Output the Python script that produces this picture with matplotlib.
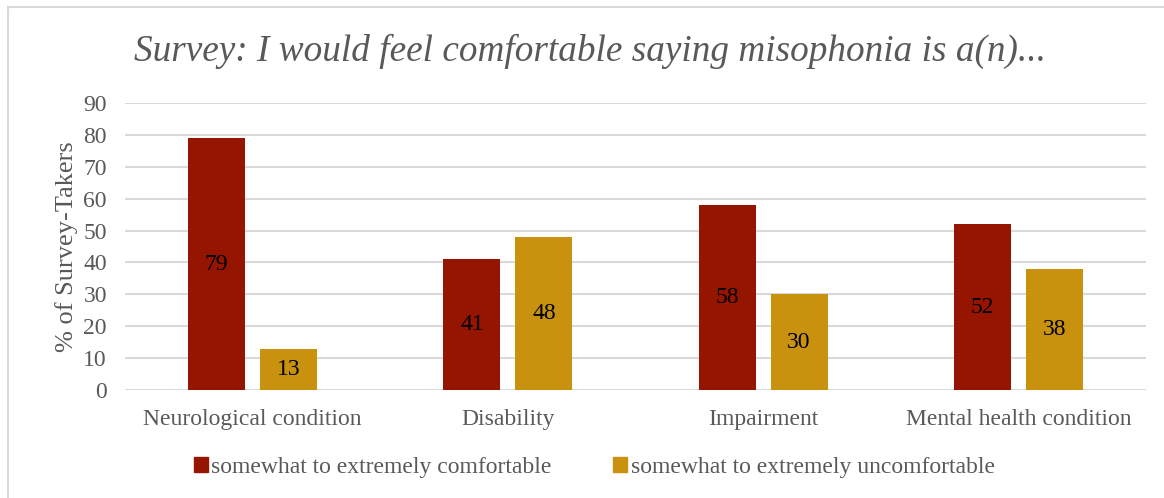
import numpy as np
import matplotlib.pyplot as plt
from matplotlib.patches import Rectangle

categories = ["Neurological condition", "Disability", "Impairment", "Mental health condition"]
comfortable = [79, 41, 58, 52]
uncomfortable = [13, 48, 30, 38]
series_names = ["somewhat to extremely comfortable", "somewhat to extremely uncomfortable"]
yticks = list(range(0, 100, 10))

red = "#951500"
gold = "#c9920e"
grey_text = "#595959"
grid_col = "#d9d9d9"

plt.rcParams["font.family"] = ["Liberation Serif", "DejaVu Serif"]

W, H = 1164, 498
fig = plt.figure(figsize=(W / 100, H / 100), dpi=100)
fig.patch.set_facecolor("white")

# outer chart frame (runs off the right and bottom edges)
fig.patches.append(Rectangle((8 / W, -0.05), 1.1, (H - 7) / H + 0.05,
                             transform=fig.transFigure, fill=False,
                             edgecolor="#d9d9d9", linewidth=1.5))

ax = fig.add_axes([125 / W, 1 - 390 / H, (1146 - 125) / W, (390 - 103) / H])

x = np.arange(len(categories))
bw = 0.224
off = 0.141
b1 = ax.bar(x - off, comfortable, bw, color=red, zorder=3)
b2 = ax.bar(x + off, uncomfortable, bw, color=gold, zorder=3)

for bars, vals in ((b1, comfortable), (b2, uncomfortable)):
    for rect, v in zip(bars, vals):
        ax.text(rect.get_x() + rect.get_width() / 2, v / 2, str(v),
                ha="center", va="center", fontsize=17, color="black", zorder=4)

ax.set_xlim(-0.5, len(categories) - 0.5)
ax.set_ylim(0, 90)
ax.set_yticks(yticks)
ax.set_yticklabels([str(t) for t in yticks])
ax.set_xticks(x)
ax.set_xticklabels(categories)
ax.tick_params(axis="both", length=0, labelsize=17, labelcolor=grey_text)
ax.tick_params(axis="y", pad=13)
ax.tick_params(axis="x", pad=14)
ax.yaxis.grid(True, color=grid_col, linewidth=1.5, zorder=0)
ax.set_axisbelow(True)
for s in ax.spines.values():
    s.set_visible(False)

ax.set_ylabel("% of Survey-Takers", fontsize=19, color=grey_text, labelpad=4)

fig.text(590 / W, 1 - 51 / H, "Survey: I would feel comfortable saying misophonia is a(n)...",
         ha="center", va="center", fontsize=26.8, style="italic", color=grey_text)

handles = [Rectangle((0, 0), 1, 1, color=red), Rectangle((0, 0), 1, 1, color=gold)]
fig.legend(handles, series_names, loc="center", bbox_to_anchor=(0.5105, 1 - 467 / H),
           ncol=2, frameon=False, fontsize=17, labelcolor=grey_text,
           handlelength=0.6, handleheight=0.6, handletextpad=0.15, columnspacing=2.6)

fig.savefig("out.png", dpi=100)
